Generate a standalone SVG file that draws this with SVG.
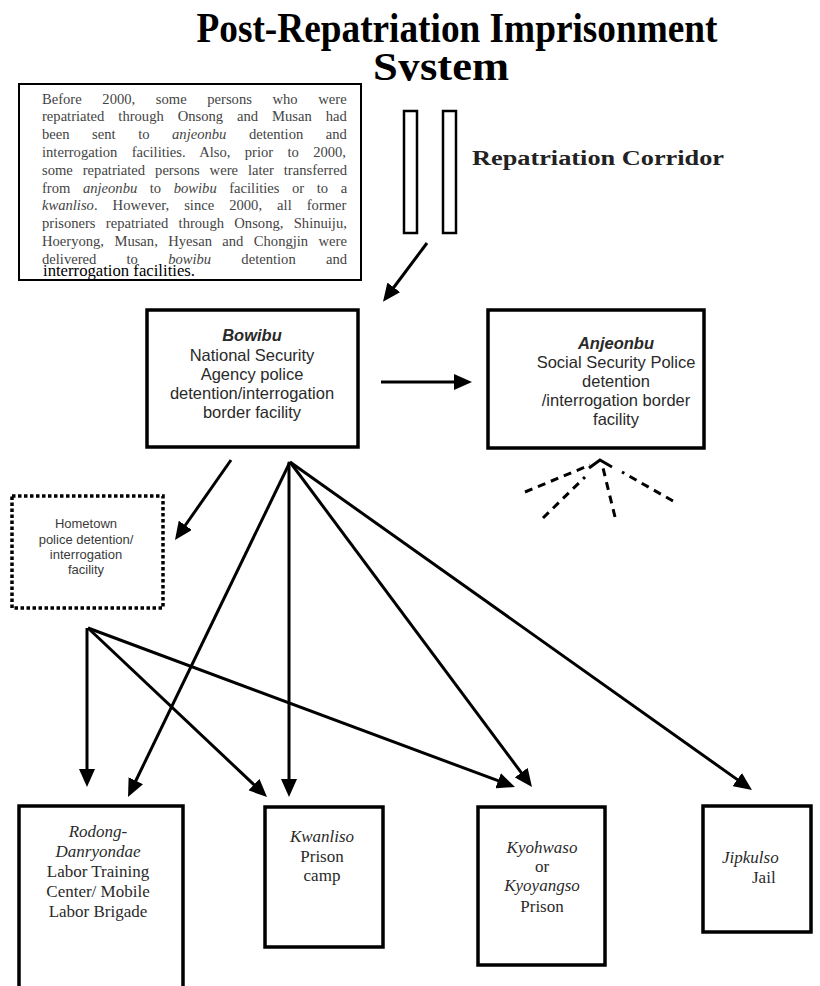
<svg xmlns="http://www.w3.org/2000/svg" width="820" height="986" viewBox="0 0 820 986">
<style>
.title{font-family:"Liberation Serif",serif;font-weight:bold;font-size:42px;fill:#000}
.para{font-family:"Liberation Serif",serif;font-size:14.6px;fill:#444}
.sans{font-family:"Liberation Sans",Arial,sans-serif;font-size:16.5px;fill:#2a2a2a;text-anchor:middle}
.small{font-family:"Liberation Sans",Arial,sans-serif;font-size:13px;fill:#3a3a3a;text-anchor:middle}
.serif{font-family:"Liberation Serif",serif;font-size:17px;fill:#2a2a2a;text-anchor:middle}
.box{fill:#fff;stroke:#000;stroke-width:3.5}
.conn{stroke:#000;stroke-width:3;fill:none}
.dash{stroke:#000;stroke-width:3;fill:none;stroke-dasharray:8 6}
.it{font-style:italic}
.b{font-weight:bold}
</style>
<defs>
<marker id="ah" viewBox="0 0 18 16" markerWidth="18" markerHeight="16" refX="7" refY="8" orient="auto" markerUnits="userSpaceOnUse">
<path d="M0,0 L18,8 L0,16 z" fill="#000"/>
</marker>
<clipPath id="tclip"><rect x="0" y="48" width="820" height="33"/></clipPath>
</defs>
<rect width="820" height="986" fill="#fff"/>
<g id="title">
<text class="title" x="457" y="42" text-anchor="middle" textLength="521" lengthAdjust="spacingAndGlyphs">Post-Repatriation  Imprisonment</text>
<text class="title" x="441" y="80" text-anchor="middle" textLength="136" lengthAdjust="spacingAndGlyphs" clip-path="url(#tclip)" style="font-size:40px">System</text>
</g>
<g id="note">
<rect x="19" y="84" width="342" height="196" fill="#fff" stroke="#000" stroke-width="2"/>
<text class="para" x="42" y="103.5" style="word-spacing:17px">Before 2000, some persons who were</text>
<text class="para" x="42" y="121.3" style="word-spacing:10.3px">repatriated through Onsong and Musan had</text>
<text class="para" x="42" y="139.1" style="word-spacing:18.9px">been sent to <tspan class="it">anjeonbu</tspan> detention and</text>
<text class="para" x="42" y="156.9" style="word-spacing:10.7px">interrogation facilities. Also, prior to 2000,</text>
<text class="para" x="42" y="174.7" style="word-spacing:6.3px">some repatriated persons were later transferred</text>
<text class="para" x="42" y="192.5" style="word-spacing:8.9px">from <tspan class="it">anjeonbu</tspan> to <tspan class="it">bowibu</tspan> facilities or to a</text>
<text class="para" x="42" y="210.3" style="word-spacing:11.4px"><tspan class="it">kwanliso</tspan>. However, since 2000, all former</text>
<text class="para" x="42" y="228.1" style="word-spacing:6.7px">prisoners repatriated through Onsong, Shinuiju,</text>
<text class="para" x="42" y="245.9" style="word-spacing:6.75px">Hoeryong, Musan, Hyesan and Chongjin were</text>
<text class="para" x="42" y="263.7" style="word-spacing:26.6px">delivered to <tspan class="it">bowibu</tspan> detention and</text>
<text x="43" y="276" style="font-family:'Liberation Serif',serif;font-size:16.7px;fill:#000">interrogation facilities.</text>
</g>
<g id="corridor">
<rect x="404" y="111" width="13" height="122" fill="#fff" stroke="#000" stroke-width="2.5"/>
<rect x="443" y="111" width="13" height="122" fill="#fff" stroke="#000" stroke-width="2.5"/>
<text x="472" y="165" textLength="252" lengthAdjust="spacingAndGlyphs" style="font-family:'Liberation Serif',serif;font-weight:bold;font-size:20px;fill:#222">Repatriation  Corridor</text>
</g>
<g id="bowibu">
<rect class="box" x="147" y="310" width="211" height="137"/>
<text class="sans b it" x="252" y="341">Bowibu</text>
<text class="sans" x="252" y="361">National Security</text>
<text class="sans" x="252" y="380">Agency police</text>
<text class="sans" x="252" y="399">detention/interrogation</text>
<text class="sans" x="252" y="418">border facility</text>
</g>
<g id="anjeonbu">
<rect class="box" x="488" y="310" width="216" height="138"/>
<text class="sans b it" x="616" y="349">Anjeonbu</text>
<text class="sans" x="616" y="368">Social Security Police</text>
<text class="sans" x="616" y="387">detention</text>
<text class="sans" x="616" y="406">/interrogation border</text>
<text class="sans" x="616" y="425">facility</text>
</g>
<g id="hometown">
<rect x="12" y="496" width="151" height="112" fill="#fff" stroke="#000" stroke-width="3.5" stroke-dasharray="3.5 2.5"/>
<text class="small" x="86" y="528">Hometown</text>
<text class="small" x="86" y="544">police detention/</text>
<text class="small" x="86" y="559">interrogation</text>
<text class="small" x="86" y="574">facility</text>
</g>
<g id="rodong">
<rect class="box" x="19" y="806" width="164" height="190"/>
<text class="serif it" x="98" y="837">Rodong-</text>
<text class="serif it" x="98" y="857">Danryondae</text>
<text class="serif" x="98" y="877">Labor Training</text>
<text class="serif" x="98" y="897">Center/ Mobile</text>
<text class="serif" x="98" y="917">Labor Brigade</text>
</g>
<g id="kwanliso">
<rect class="box" x="265" y="807" width="118" height="140"/>
<text class="serif it" x="322" y="842">Kwanliso</text>
<text class="serif" x="322" y="862">Prison</text>
<text class="serif" x="322" y="881">camp</text>
</g>
<g id="kyohwaso">
<rect class="box" x="478" y="807" width="127" height="158"/>
<text class="serif it" x="542" y="853">Kyohwaso</text>
<text class="serif" x="542" y="872">or</text>
<text class="serif it" x="542" y="891">Kyoyangso</text>
<text class="serif" x="542" y="912">Prison</text>
</g>
<g id="jipkulso">
<rect class="box" x="703" y="806" width="108" height="126"/>
<text class="serif it" x="722" y="863" style="text-anchor:start">Jipkulso</text>
<text class="serif" x="752" y="883" style="text-anchor:start">Jail</text>
</g>
<g id="connectors">
<line class="conn" x1="427" y1="243" x2="389.6" y2="293" marker-end="url(#ah)"/>
<line class="conn" x1="381" y1="382" x2="461" y2="382" marker-end="url(#ah)"/>
<line class="conn" x1="231" y1="460" x2="181.3" y2="531" marker-end="url(#ah)"/>
<line class="conn" x1="290" y1="462" x2="132.8" y2="787" marker-end="url(#ah)"/>
<line class="conn" x1="289" y1="462" x2="289" y2="786" marker-end="url(#ah)"/>
<line class="conn" x1="290" y1="462" x2="525.4" y2="778.2" marker-end="url(#ah)"/>
<line class="conn" x1="290" y1="462" x2="743" y2="783.6" marker-end="url(#ah)"/>
<line class="conn" x1="87" y1="628" x2="87" y2="776" marker-end="url(#ah)"/>
<line class="conn" x1="88" y1="628" x2="259" y2="789.4" marker-end="url(#ah)"/>
<line class="conn" x1="88" y1="628" x2="504.7" y2="783.2" marker-end="url(#ah)"/>
<line class="dash" x1="525" y1="492" x2="590" y2="465"/>
<line class="dash" x1="543" y1="518" x2="585" y2="477"/>
<line class="dash" x1="615" y1="517" x2="603" y2="468"/>
<line class="dash" x1="673" y1="501" x2="622" y2="472"/>
<polyline class="conn" points="589,468 600,460 612,467"/>
</g>
</svg>
